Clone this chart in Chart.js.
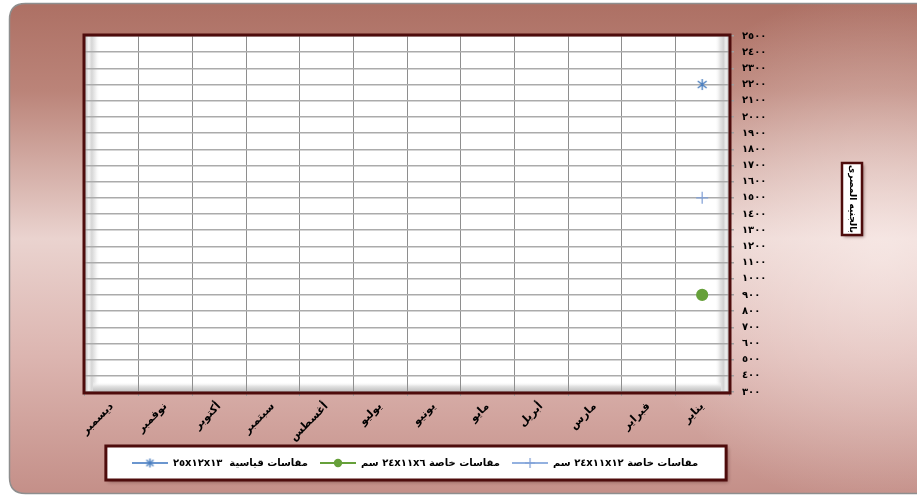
<!DOCTYPE html>
<html><head><meta charset="utf-8">
<script src="https://cdn.jsdelivr.net/npm/chart.js@4.4.1/dist/chart.umd.min.js"></script>
<style>html,body{margin:0;padding:0;background:#fff;overflow:hidden}#wrap{width:917px;height:497px;position:relative}</style>
</head><body><div id="wrap"><canvas id="c" width="917" height="497"></canvas></div>
<script>
// ---- data ----
const months = ['يناير','فبراير','مارس','أبريل','مايو','يونيو','يوليو','أغسطس','سبتمبر','أكتوبر','نوفمبر','ديسمبر'];
const seriesNames = ['مقاسات خاصة ٢٤x١١x١٢ سم', 'مقاسات خاصة ٢٤x١١x٦ سم', 'مقاسات قياسية  ٢٥x١٢x١٣'];
const special12 = [1500, null, null, null, null, null, null, null, null, null, null, null];
const special6  = [900,  null, null, null, null, null, null, null, null, null, null, null];
const standard  = [2200, null, null, null, null, null, null, null, null, null, null, null];
const yMin = 300, yMax = 2500, yStep = 100;
const axisTitle = 'بالجنيه المصرى';
const arabicDigits = ['٠','١','٢','٣','٤','٥','٦','٧','٨','٩'];
const toArabic = v => String(v).replace(/\d/g, d => arabicDigits[+d]);

const FONT = "'DejaVu Sans', sans-serif";
const colPlus = '#7f9fd6', colPlusLine = '#93b1e0';
const colGreen = '#66a03a';
const colStar = '#4a7ebf', colStarLine = '#6b96cf';
const maroon = '#4e0c0c';

function makeStar(size, color){
  const c = document.createElement('canvas'); c.width = size; c.height = size;
  const g = c.getContext('2d'); g.strokeStyle = color; g.lineWidth = 1.4;
  const m = size/2, r = size/2 - 1;
  g.beginPath();
  g.moveTo(m, m - r); g.lineTo(m, m + r);
  g.moveTo(m - r*0.8, m - r*0.65); g.lineTo(m + r*0.8, m + r*0.65);
  g.moveTo(m - r*0.8, m + r*0.65); g.lineTo(m + r*0.8, m - r*0.65);
  g.stroke();
  return c;
}
function makeLegendImg(lineColor, kind, markColor){
  const w = 36, h = 12;
  const c = document.createElement('canvas'); c.width = w; c.height = h;
  const g = c.getContext('2d');
  g.strokeStyle = lineColor; g.lineWidth = 2.2;
  g.beginPath(); g.moveTo(0, h/2); g.lineTo(w, h/2); g.stroke();
  if (kind === 'circle'){
    g.fillStyle = markColor; g.beginPath(); g.arc(w/2, h/2, 4.2, 0, Math.PI*2); g.fill();
  } else if (kind === 'cross'){
    g.strokeStyle = markColor; g.lineWidth = 1.2;
    g.beginPath(); g.moveTo(w/2, 1); g.lineTo(w/2, h-1); g.moveTo(w/2-5, h/2); g.lineTo(w/2+5, h/2); g.stroke();
  } else {
    g.drawImage(makeStar(11, markColor), w/2 - 5.5, h/2 - 5.5);
  }
  return c;
}
const legendImgs = [
  makeLegendImg(colPlusLine, 'cross', colPlus),
  makeLegendImg(colGreen, 'circle', colGreen),
  makeLegendImg(colStarLine, 'star', colStar)
];

function roundRect(ctx, x, y, w, h, r){
  ctx.beginPath();
  ctx.moveTo(x + r, y); ctx.lineTo(x + w - r, y); ctx.quadraticCurveTo(x + w, y, x + w, y + r);
  ctx.lineTo(x + w, y + h - r); ctx.quadraticCurveTo(x + w, y + h, x + w - r, y + h);
  ctx.lineTo(x + r, y + h); ctx.quadraticCurveTo(x, y + h, x, y + h - r);
  ctx.lineTo(x, y + r); ctx.quadraticCurveTo(x, y, x + r, y); ctx.closePath();
}

const decor = {
  id: 'decor',
  afterLayout(chart){
    const lgd = chart.legend;
    if (lgd){ lgd.left += 8; lgd.right += 8; }
  },
  beforeDraw(chart){
    const ctx = chart.ctx, W = chart.width, H = chart.height;
    ctx.save();
    ctx.fillStyle = '#ffffff'; ctx.fillRect(0, 0, W, H);
    const g = ctx.createLinearGradient(0, 3, 0, H - 3);
    g.addColorStop(0, '#ad7064');
    g.addColorStop(0.18, '#bb8479');
    g.addColorStop(0.48, '#ead3cf');
    g.addColorStop(0.72, '#dcb5b0');
    g.addColorStop(1, '#c48f88');
    roundRect(ctx, 9.5, 3.5, W + 20, H - 7, 16);
    ctx.fillStyle = g; ctx.fill();
    const rg = ctx.createRadialGradient(880, 250, 10, 880, 250, 260);
    rg.addColorStop(0, 'rgba(255,245,243,0.55)');
    rg.addColorStop(1, 'rgba(255,245,243,0)');
    ctx.fillStyle = rg; ctx.fill();
    ctx.strokeStyle = '#8e8e8e'; ctx.lineWidth = 1.5; ctx.stroke();

    const a = chart.chartArea;
    ctx.fillStyle = '#ffffff'; ctx.fillRect(a.left, a.top, a.right - a.left, a.bottom - a.top);
    const lg = ctx.createLinearGradient(a.left, 0, a.left + 15, 0);
    lg.addColorStop(0, '#bdbdbd'); lg.addColorStop(0.25, '#f2f2f2'); lg.addColorStop(0.45, '#d6d6d6');
    lg.addColorStop(0.7, '#eeeeee'); lg.addColorStop(1, 'rgba(255,255,255,0)');
    ctx.fillStyle = lg; ctx.fillRect(a.left, a.top, 15, a.bottom - a.top);
    const rgd = ctx.createLinearGradient(a.right - 14, 0, a.right, 0);
    rgd.addColorStop(0, 'rgba(255,255,255,0)'); rgd.addColorStop(0.35, '#e6e6e6');
    rgd.addColorStop(0.6, '#d2d2d2'); rgd.addColorStop(0.8, '#f0f0f0'); rgd.addColorStop(1, '#b8b8b8');
    ctx.fillStyle = rgd; ctx.fillRect(a.right - 14, a.top, 14, a.bottom - a.top);
    const bg = ctx.createLinearGradient(0, a.bottom - 10, 0, a.bottom);
    bg.addColorStop(0, 'rgba(255,255,255,0)'); bg.addColorStop(0.4, '#e4e4e4');
    bg.addColorStop(0.7, '#cfcfcf'); bg.addColorStop(1, '#bcbcbc');
    ctx.fillStyle = bg; ctx.fillRect(a.left + 8, a.bottom - 10, a.right - a.left - 16, 10);

    const lgd = chart.legend;
    if (lgd && lgd.legendHitBoxes && lgd.legendHitBoxes.length){
      let minL = Infinity, maxR = -Infinity;
      lgd.legendHitBoxes.forEach(h => { minL = Math.min(minL, h.left); maxR = Math.max(maxR, h.left + h.width); });
      const bx = minL - 26, bw = (maxR + 28) - bx, by = lgd.top, bh = lgd.bottom - lgd.top + 2;
      ctx.shadowColor = 'rgba(60,20,20,0.45)'; ctx.shadowBlur = 4; ctx.shadowOffsetX = 2; ctx.shadowOffsetY = 2;
      ctx.fillStyle = '#ffffff'; ctx.fillRect(bx, by, bw, bh);
      ctx.shadowColor = 'transparent';
      ctx.strokeStyle = maroon; ctx.lineWidth = 3; ctx.strokeRect(bx, by, bw, bh);
    }
    ctx.restore();
  },
  afterDraw(chart){
    const ctx = chart.ctx, a = chart.chartArea;
    ctx.save();
    ctx.strokeStyle = maroon; ctx.lineWidth = 3;
    ctx.strokeRect(a.left - 1, a.top - 1, a.right - a.left + 2, a.bottom - a.top + 2);
    const cx = 852, cy = 199, bw = 20, bh = 72;
    ctx.shadowColor = 'rgba(60,20,20,0.45)'; ctx.shadowBlur = 3; ctx.shadowOffsetX = 2; ctx.shadowOffsetY = 2;
    ctx.fillStyle = '#ffffff'; ctx.fillRect(cx - bw/2, cy - bh/2, bw, bh);
    ctx.shadowColor = 'transparent';
    ctx.strokeStyle = maroon; ctx.lineWidth = 2.5; ctx.strokeRect(cx - bw/2, cy - bh/2, bw, bh);
    ctx.translate(cx, cy); ctx.rotate(Math.PI / 2);
    ctx.fillStyle = '#000'; ctx.font = "bold 9px " + FONT; ctx.textAlign = 'center'; ctx.textBaseline = 'middle';
    ctx.direction = 'rtl';
    ctx.fillText(axisTitle, 0, 0);
    ctx.restore();
  }
};

new Chart(document.getElementById('c'), {
  type: 'line',
  data: {
    labels: months,
    datasets: [
      { label: seriesNames[0], data: special12, borderColor: colPlusLine, backgroundColor: colPlus,
        pointStyle: 'cross', pointRadius: 6, pointBorderColor: colPlus, pointBorderWidth: 1.2, borderWidth: 2.2 },
      { label: seriesNames[1], data: special6, borderColor: colGreen, backgroundColor: colGreen,
        pointStyle: 'circle', pointRadius: 5, pointBorderColor: colGreen, pointBackgroundColor: colGreen, borderWidth: 2.2 },
      { label: seriesNames[2], data: standard, borderColor: colStarLine, backgroundColor: colStar,
        pointStyle: makeStar(13, colStar), borderWidth: 2.2 }
    ]
  },
  options: {
    responsive: false,
    animation: false,
    devicePixelRatio: 1,
    layout: { padding: { left: 85, top: 36, right: 0, bottom: 19 } },
    scales: {
      x: {
        reverse: true, offset: true,
        grid: { offset: true, color: '#8e8e8e', lineWidth: 1, tickColor: '#a0a0a0', tickLength: 4, drawTicks: true },
        border: { display: false },
        ticks: { autoSkip: false, maxRotation: 45, minRotation: 45, padding: 4, color: '#000',
                 font: { family: FONT, size: 11, weight: 'bold' } },
        afterFit(s){ s.height = 54; }
      },
      y: {
        position: 'right', min: yMin, max: yMax,
        grid: { color: '#ababab', lineWidth: 1.5, tickColor: '#a0a0a0', tickLength: 5, drawTicks: true },
        border: { display: false },
        ticks: { stepSize: yStep, padding: 8, color: '#000', callback: v => toArabic(v),
                 font: { family: FONT, size: 10, weight: 'bold' } },
        afterFit(s){ s.width = 188; }
      }
    },
    plugins: {
      legend: {
        position: 'bottom', fullSize: false, reverse: true, textDirection: 'rtl',
        labels: {
          usePointStyle: true, pointStyleWidth: 36, boxHeight: 10, padding: 12, color: '#000',
          font: { family: FONT, size: 10, weight: 'bold' },
          generateLabels(chart){
            return chart.data.datasets.map((ds, i) => ({
              text: ds.label, pointStyle: legendImgs[i], datasetIndex: i, hidden: false,
              lineWidth: 0, fillStyle: 'rgba(0,0,0,0)', strokeStyle: 'rgba(0,0,0,0)', fontColor: '#000'
            }));
          }
        }
      },
      tooltip: { enabled: false }
    }
  },
  plugins: [decor]
});
</script></body></html>
